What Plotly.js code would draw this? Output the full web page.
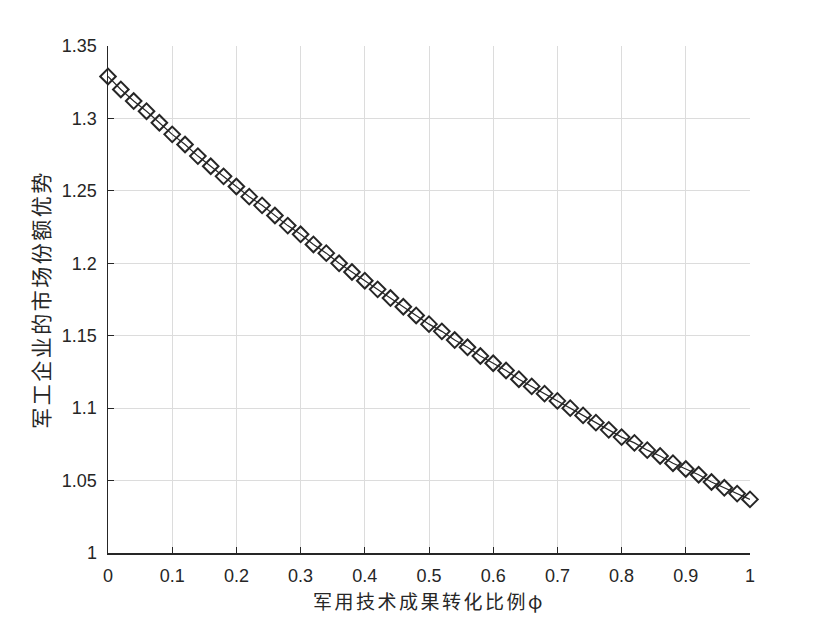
<!DOCTYPE html>
<html>
<head>
<meta charset="utf-8">
<script src="https://cdn.plot.ly/plotly-3.0.1.min.js"></script>
<style>
html,body{margin:0;padding:0;background:#fff;}
#chart{width:827px;height:620px;}
text.xtitle{letter-spacing:2.5px;}
text.ytitle{letter-spacing:2.5px;}
</style>
</head>
<body>
<div id="chart"></div>
<script>
var phi = [0,0.02,0.04,0.06,0.08,0.10,0.12,0.14,0.16,0.18,0.20,0.22,0.24,0.26,0.28,0.30,0.32,0.34,0.36,0.38,0.40,0.42,0.44,0.46,0.48,0.50,0.52,0.54,0.56,0.58,0.60,0.62,0.64,0.66,0.68,0.70,0.72,0.74,0.76,0.78,0.80,0.82,0.84,0.86,0.88,0.90,0.92,0.94,0.96,0.98,1.00];
var advantage = [1.329,1.320,1.312,1.305,1.297,1.289,1.282,1.274,1.267,1.260,1.253,1.246,1.240,1.233,1.226,1.220,1.213,1.207,1.200,1.194,1.188,1.182,1.176,1.170,1.164,1.158,1.153,1.147,1.142,1.136,1.131,1.126,1.120,1.115,1.110,1.105,1.100,1.095,1.090,1.085,1.080,1.076,1.071,1.067,1.062,1.058,1.054,1.049,1.045,1.041,1.037];
var xTicks = [0,0.1,0.2,0.3,0.4,0.5,0.6,0.7,0.8,0.9,1];
var xTickText = ['0','0.1','0.2','0.3','0.4','0.5','0.6','0.7','0.8','0.9','1'];
var yTicks = [1,1.05,1.1,1.15,1.2,1.25,1.3,1.35];
var yTickText = ['1','1.05','1.1','1.15','1.2','1.25','1.3','1.35'];
var xTitle = '军用技术成果转化比例φ';
var yTitle = '军工企业的市场份额优势';

var trace = {
  x: phi, y: advantage, type: 'scatter', mode: 'lines+markers',
  line: {color: '#262626', width: 1.2},
  marker: {symbol: 'diamond-open', size: 12, color: '#262626', line: {width: 2, color: '#262626'}},
  showlegend: false, cliponaxis: false
};
var tickFont = {family: 'Arial, Liberation Sans, sans-serif', size: 18, color: '#262626'};
var layout = {
  width: 827, height: 620,
  margin: {l: 108, r: 77, t: 46, b: 67},
  paper_bgcolor: '#ffffff', plot_bgcolor: '#ffffff',
  xaxis: {
    range: [0, 1], tickvals: xTicks, ticktext: xTickText,
    showgrid: true, gridcolor: '#dcdcdc', gridwidth: 1,
    zeroline: false, showline: true, linecolor: '#262626', linewidth: 1.5,
    ticks: 'inside', ticklen: 6, tickcolor: '#262626', tickwidth: 1,
    tickfont: tickFont, ticklabelstandoff: 6,
    title: {text: xTitle, font: {family: 'Noto Sans CJK SC, sans-serif', size: 19, color: '#262626'}, standoff: 10}
  },
  yaxis: {
    range: [1, 1.35], tickvals: yTicks, ticktext: yTickText,
    showgrid: true, gridcolor: '#dcdcdc', gridwidth: 1,
    zeroline: false, showline: true, linecolor: '#262626', linewidth: 1.5,
    ticks: 'inside', ticklen: 6, tickcolor: '#262626', tickwidth: 1,
    tickfont: tickFont, ticklabelstandoff: 6,
    title: {text: yTitle, font: {family: 'Noto Sans CJK SC, sans-serif', size: 21, color: '#262626'}, standoff: 6}
  }
};
Plotly.newPlot('chart', [trace], layout, {displayModeBar: false, staticPlot: true});
</script>
</body>
</html>
